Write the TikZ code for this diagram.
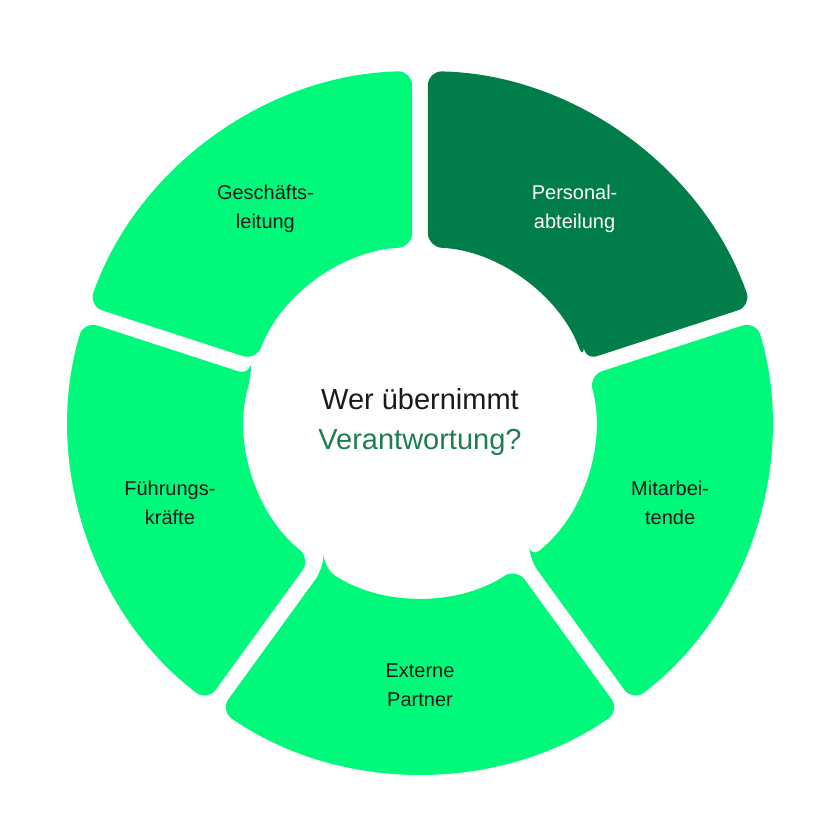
\documentclass[tikz,border=0pt]{standalone}
\usepackage{fontspec}
\setmainfont{Liberation Sans}
\definecolor{lgreen}{HTML}{00F97A}
\definecolor{dgreen}{HTML}{007D48}
\definecolor{tgreen}{HTML}{1B7F52}
\definecolor{tdark}{HTML}{1A1A1A}
\begin{document}
\begin{tikzpicture}[x=1pt,y=1pt,
  seg/.style={fill=lgreen,rounded corners=14pt},
  lab/.style={align=center,font=\fontsize{20}{29}\selectfont,text=tdark}]
\useasboundingbox (-420,-418) rectangle (420,422);
\fill[white] (-420,-418) rectangle (420,422);
\foreach \a/\c in {90/lgreen,162/lgreen,234/lgreen,306/lgreen,18/dgreen}{
  \pgfmathsetmacro{\b}{\a+72}
  \fill[seg,fill=\c] (\a+2.6:175) -- (\a+1.3:351) arc[start angle=\a+1.3,end angle=\b-1.3,radius=351]
    -- (\b-2.6:175) arc[start angle=\b-2.6,end angle=\a+2.6,radius=175] -- cycle;
}
\node[lab,text=white] (p) at (54:263) {Personal-\\abteilung};
\node[lab] (g) at (126:263) {Geschäfts-\\leitung};
\node[lab] (f) at (198:263) {Führungs-\\kräfte};
\node[lab] (e) at (270:263) {Externe\\Partner};
\node[lab] (m) at (342:263) {Mitarbei-\\tende};
\node[align=center,font=\fontsize{29}{40}\selectfont] (c) at (0,0) {\textcolor{tdark}{Wer übernimmt}\\\textcolor{tgreen}{Verantwortung?}};
\end{tikzpicture}
\end{document}
